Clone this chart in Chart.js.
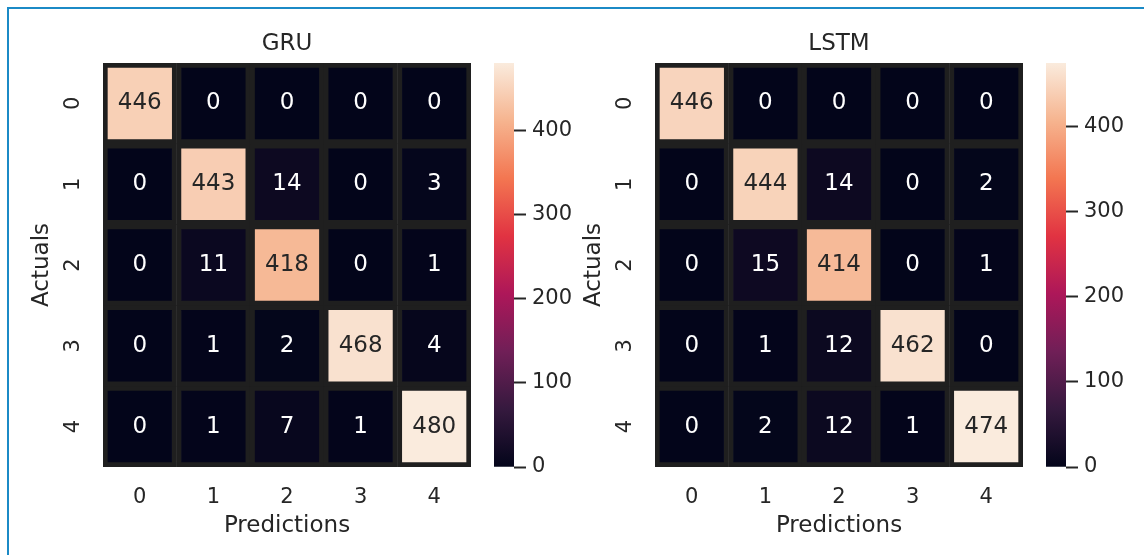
<!DOCTYPE html>
<html>
<head>
<meta charset="utf-8">
<script src="https://cdn.jsdelivr.net/npm/chart.js@4.4.1/dist/chart.umd.min.js"></script>
<style>
html,body{margin:0;padding:0;background:#fff;}
#wrap{position:relative;width:1144px;height:555px;overflow:hidden;background:#fff;}
#frame{position:absolute;left:7px;top:7px;width:1300px;height:700px;border-top:2px solid #1b8ac6;border-left:2px solid #1b8ac6;}
canvas{position:absolute;left:0;top:0;}
</style>
</head>
<body>
<div id="wrap">
  <div id="frame"></div>
  <canvas id="gru" width="1144" height="555"></canvas>
  <canvas id="gruBar" width="1144" height="555"></canvas>
  <canvas id="lstm" width="1144" height="555"></canvas>
  <canvas id="lstmBar" width="1144" height="555"></canvas>
</div>
<script>
// ---------------- data ----------------
const classLabels = ['0', '1', '2', '3', '4'];
const gruCounts = [
  [446, 0, 0, 0, 0],
  [0, 443, 14, 0, 3],
  [0, 11, 418, 0, 1],
  [0, 1, 2, 468, 4],
  [0, 1, 7, 1, 480]
];
const lstmCounts = [
  [446, 0, 0, 0, 0],
  [0, 444, 14, 0, 2],
  [0, 15, 414, 0, 1],
  [0, 1, 12, 462, 0],
  [0, 2, 12, 1, 474]
];
const colorbarStep = 100;
const panelTitles = ['GRU', 'LSTM'];
const xAxisTitle = 'Predictions';
const yAxisTitle = 'Actuals';

// ---------------- style ----------------
const FONT = "'DejaVu Sans', sans-serif";
const TXT = '#262626';
const GAP = '#1f1f1f';
const ROCKET = [
  [0, [3, 5, 26]],
  [1 / 7, [0x35, 0x19, 0x3e]],
  [2 / 7, [0x70, 0x1f, 0x57]],
  [3 / 7, [0xad, 0x17, 0x59]],
  [4 / 7, [0xe1, 0x33, 0x42]],
  [5 / 7, [0xf3, 0x76, 0x51]],
  [6 / 7, [0xf6, 0xb4, 0x8f]],
  [1, [0xfa, 0xeb, 0xdd]]
];
function rocketRgb(t) {
  t = Math.max(0, Math.min(1, t));
  for (let i = 1; i < ROCKET.length; i++) {
    if (t <= ROCKET[i][0]) {
      const [t0, c0] = ROCKET[i - 1], [t1, c1] = ROCKET[i];
      const f = (t - t0) / (t1 - t0);
      return c0.map((v, k) => Math.round(v + (c1[k] - v) * f));
    }
  }
  return ROCKET[ROCKET.length - 1][1];
}
const css = c => `rgb(${c[0]},${c[1]},${c[2]})`;
function luminance(c) {
  const l = c.map(v => { v /= 255; return v <= 0.03928 ? v / 12.92 : Math.pow((v + 0.055) / 1.055, 2.4); });
  return 0.2126 * l[0] + 0.7152 * l[1] + 0.0722 * l[2];
}

const annotatePlugin = {
  id: 'annotate',
  afterDatasetsDraw(chart) {
    const counts = chart.options.plugins.annotate.counts;
    const vmax = chart.options.plugins.annotate.vmax;
    const ctx = chart.ctx;
    ctx.save();
    ctx.font = `23px ${FONT}`;
    ctx.textAlign = 'center';
    ctx.textBaseline = 'middle';
    chart.data.datasets.forEach((ds, r) => {
      chart.getDatasetMeta(r).data.forEach((el, j) => {
        const v = counts[r][j];
        const p = el.getCenterPoint();
        ctx.fillStyle = luminance(rocketRgb(v / vmax)) > 0.408 ? TXT : '#ffffff';
        ctx.fillText(String(v), p.x, p.y);
      });
    });
    // rotated y tick labels
    const ys = chart.scales.y;
    ctx.font = `21px ${FONT}`;
    ctx.fillStyle = TXT;
    classLabels.forEach((lab, i) => {
      const y = ys.getPixelForValue(i + 0.5);
      ctx.save();
      ctx.translate(chart.chartArea.left - 29, y);
      ctx.rotate(-Math.PI / 2);
      ctx.fillText(lab, 0, 0);
      ctx.restore();
    });
    ctx.restore();
  }
};

function heatmap(id, counts, title, offsetX) {
  const vmax = Math.max(...counts.flat());
  const datasets = counts.map((row, r) => ({
    data: row.map(() => [r, r + 1]),
    backgroundColor: row.map(v => css(rocketRgb(v / vmax))),
    borderColor: GAP,
    borderWidth: 5,
    borderSkipped: false,
    grouped: false,
    barPercentage: 1,
    categoryPercentage: 1
  }));
  new Chart(document.getElementById(id), {
    type: 'bar',
    data: { labels: classLabels, datasets },
    plugins: [annotatePlugin],
    options: {
      responsive: false, animation: false, devicePixelRatio: 1,
      layout: { padding: { left: offsetX, right: 1144 - (offsetX + 471), top: 0, bottom: 0 } },
      plugins: { legend: { display: false }, tooltip: { enabled: false }, annotate: { counts, vmax } },
      scales: {
        x: {
          type: 'category', position: 'bottom',
          grid: { display: false, drawTicks: false }, border: { display: false },
          ticks: { color: TXT, font: { family: FONT, size: 21 }, padding: 18, maxRotation: 0 },
          title: { display: true, text: xAxisTitle, color: TXT, font: { family: FONT, size: 23 }, padding: { top: 0, bottom: 15 } },
          afterFit(s) { s.height = 88; }
        },
        xTop: {
          type: 'category', axis: 'x', position: 'top',
          grid: { display: false, drawTicks: false }, border: { display: false },
          ticks: { display: false },
          title: { display: true, text: title, color: TXT, font: { family: FONT, size: 23 }, padding: { top: 30, bottom: 0 } },
          afterFit(s) { s.height = 63; }
        },
        y: {
          type: 'linear', min: 0, max: classLabels.length, reverse: true,
          grid: { display: false, drawTicks: false }, border: { display: false },
          ticks: { display: false },
          title: { display: true, text: yAxisTitle, color: TXT, font: { family: FONT, size: 23 }, padding: { top: 28, bottom: 0 } },
          afterFit(s) { s.width = 103; }
        }
      }
    }
  });
  return vmax;
}

function colorbar(id, vmax, offsetX) {
  new Chart(document.getElementById(id), {
    type: 'bar',
    data: {
      labels: [''],
      datasets: [{
        data: [vmax],
        borderWidth: 0,
        barPercentage: 1,
        categoryPercentage: 1,
        backgroundColor(ctx) {
          const ca = ctx.chart.chartArea;
          if (!ca) return '#000';
          const g = ctx.chart.ctx.createLinearGradient(0, ca.bottom, 0, ca.top);
          ROCKET.forEach(([t, c]) => g.addColorStop(t, css(c)));
          return g;
        }
      }]
    },
    options: {
      responsive: false, animation: false, devicePixelRatio: 1,
      layout: { padding: { left: offsetX + 494, right: 1144 - (offsetX + 514) - 60, top: 63, bottom: 88 } },
      plugins: { legend: { display: false }, tooltip: { enabled: false } },
      scales: {
        x: { display: false },
        y: {
          position: 'right', min: 0, max: vmax,
          grid: { display: true, drawOnChartArea: false, drawTicks: true, tickLength: 12, tickWidth: 2, tickColor: TXT },
          border: { display: false },
          ticks: { stepSize: colorbarStep, includeBounds: false, padding: 6, color: TXT, font: { family: FONT, size: 21 } },
          afterFit(s) { s.width = 60; }
        }
      }
    }
  });
}

const gruMax = heatmap('gru', gruCounts, panelTitles[0], 0);
colorbar('gruBar', gruMax, 0);
const lstmMax = heatmap('lstm', lstmCounts, panelTitles[1], 552);
colorbar('lstmBar', lstmMax, 552);
</script>
</body>
</html>
